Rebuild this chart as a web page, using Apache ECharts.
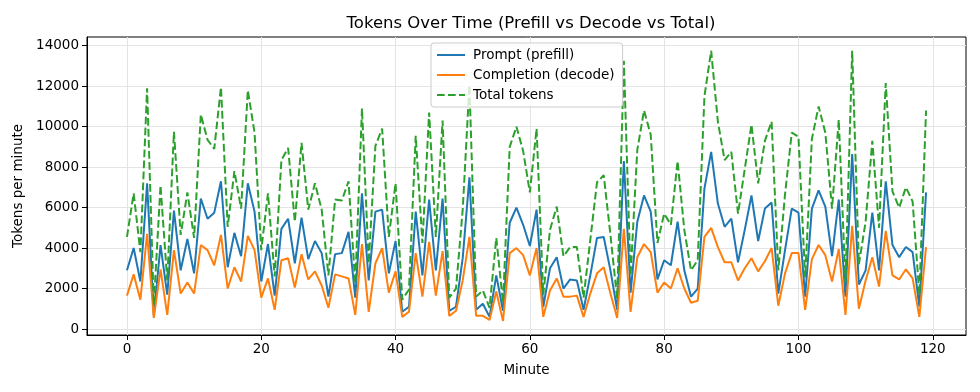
<!DOCTYPE html>
<html>
<head>
<meta charset="utf-8">
<script src="https://cdn.jsdelivr.net/npm/echarts@6/dist/echarts.min.js"></script>
<style>html,body{margin:0;padding:0;background:#fff;}#c{width:980px;height:392px;}</style>
</head>
<body>
<div id="c"></div>
<script>
const minutes = Array.from({length: 120}, (_, i) => i);
const promptTokens = [2900,4000,2350,7200,650,4150,1700,5850,2900,4450,2750,6450,5450,5750,7300,3050,4750,3600,7200,5800,
2350,4200,1650,4950,5450,3250,5500,3450,4350,3750,1600,3700,3750,4800,1550,6700,2400,5800,5900,2750,
4350,850,1100,5800,2650,6400,2900,6450,900,1100,3500,7500,950,1250,600,2650,900,5250,6000,5150,
4100,5900,1100,3000,3550,2000,2450,2400,950,2650,4500,4550,2900,950,8300,1800,5300,6600,5800,2450,
3400,3150,5300,2900,1600,2000,6950,8750,6200,5050,5450,3300,4900,6600,4350,5950,6250,1750,3900,5950,
5750,1600,5950,6850,6050,3600,6400,1600,8650,2200,2900,5750,2900,7300,4150,3550,4050,3800,1100,6750];
const completionTokens = [1650,2700,1450,4700,550,2950,700,3900,1750,2300,1750,4150,3900,3150,4650,2000,3050,2350,4600,3900,
1550,2500,950,3400,3500,2050,3700,2450,2850,2150,1050,2700,2600,2500,700,4200,850,3250,4000,1800,
2850,600,850,3750,1600,4300,1650,3850,650,900,2400,4550,650,650,450,1850,400,3750,4000,3650,
2650,4000,600,1900,2500,1600,1600,1650,600,1750,2750,3050,1750,550,4950,850,3550,4200,3800,1800,
2300,2000,3000,2000,1300,1400,4550,5000,4050,3300,3300,2400,3000,3500,2850,3350,4000,1150,2750,3750,
3750,950,3450,4150,3650,2350,3950,700,5100,1000,2400,3550,2100,4850,2650,2450,2950,2500,600,4050];
const totalTokens = [4550,6700,3800,11900,1200,7100,2400,9750,4650,6750,4500,10600,9350,8900,11950,5050,7800,5950,11800,9700,
3900,6700,2600,8350,8950,5300,9200,5900,7200,5900,2650,6400,6350,7300,2250,10900,3250,9050,9900,4550,
7200,1450,1950,9550,4250,10700,4550,10300,1550,2000,5900,12050,1600,1900,1050,4500,1300,9000,10000,8800,
6750,9900,1700,4900,6050,3600,4050,4050,1550,4400,7250,7600,4650,1500,13250,2650,8850,10800,9600,4250,
5700,5150,8300,4900,2900,3400,11500,13750,10250,8350,8750,5700,7900,10100,7200,9300,10250,2900,6650,9700,
9500,2550,9400,11000,9700,5950,10350,2300,13750,3200,5300,9300,5000,12150,6800,6000,7000,6300,1700,10800];
const xTicks = [0,20,40,60,80,100,120];
const yTicks = [0,2000,4000,6000,8000,10000,12000,14000];

const font = 'DejaVu Sans';
const solidIcon = 'path://M0,0 L28,0 L28,2 L0,2 Z';
const dashedIcon = 'path://M0,0 L7.7,0 L7.7,2 L0,2 Z M11,0 L18.7,0 L18.7,2 L11,2 Z M22,0 L28,0 L28,2 L22,2 Z';
const chart = echarts.init(document.getElementById('c'), null, {renderer: 'canvas'});
const pair = a => a.map((v, i) => [minutes[i], v]);
chart.setOption({
  animation: false,
  backgroundColor: '#fff',
  title: {
    text: 'Tokens Over Time (Prefill vs Decode vs Total)',
    left: 526, top: 10, textAlign: 'center',
    textStyle: {fontFamily: font, fontSize: 16.5, fontWeight: 'normal', color: '#000'}
  },
  legend: {
    orient: 'vertical',
    left: 431, top: 43, z: 10,
    padding: [5, 8, 5, 6],
    itemGap: 6,
    itemWidth: 28, itemHeight: 14,
    backgroundColor: 'rgba(255,255,255,0.8)',
    borderColor: '#cccccc', borderWidth: 1, borderRadius: 3,
    textStyle: {fontFamily: font, fontSize: 13.5, color: '#000', padding: [0, 0, 0, 3]},
    data: [
      {name: 'Prompt (prefill)', icon: solidIcon, itemStyle: {color: '#1f77b4'}},
      {name: 'Completion (decode)', icon: solidIcon, itemStyle: {color: '#ff7f0e'}},
      {name: 'Total tokens', icon: dashedIcon, itemStyle: {color: '#2ca02c'}}
    ]
  },
  grid: {left: 87, right: 14, top: 37, bottom: 57, show: true, borderColor: '#000', borderWidth: 1},
  xAxis: {
    type: 'value', min: -5.95, max: 124.95,
    name: 'Minute', nameLocation: 'middle', nameGap: 28,
    nameTextStyle: {fontFamily: font, fontSize: 13.5, color: '#000'},
    axisLine: {show: true, onZero: false, lineStyle: {color: '#000', width: 1}},
    axisTick: {show: true, customValues: xTicks, length: 5, lineStyle: {color: '#000'}},
    axisLabel: {customValues: xTicks, fontFamily: font, fontSize: 13.5, color: '#000', margin: 7},
    splitLine: {show: true, lineStyle: {color: '#e4e4e4', width: 1}}
  },
  yAxis: {
    type: 'value', min: -296, max: 14430,
    name: 'Tokens per minute', nameLocation: 'middle', nameGap: 61, nameRotate: 90,
    nameTextStyle: {fontFamily: font, fontSize: 13.5, color: '#000'},
    axisLine: {show: true, onZero: false, lineStyle: {color: '#000', width: 1}},
    axisTick: {show: true, customValues: yTicks, length: 5, lineStyle: {color: '#000'}},
    axisLabel: {customValues: yTicks, formatter: v => String(v), fontFamily: font, fontSize: 13.5, color: '#000', margin: 8},
    splitLine: {show: true, lineStyle: {color: '#e4e4e4', width: 1}}
  },
  series: [
    {name: 'Prompt (prefill)', type: 'line', data: pair(promptTokens), symbol: 'none', z: 2,
     lineStyle: {color: '#1f77b4', width: 2}, itemStyle: {color: '#1f77b4'}},
    {name: 'Completion (decode)', type: 'line', data: pair(completionTokens), symbol: 'none', z: 2,
     lineStyle: {color: '#ff7f0e', width: 2}, itemStyle: {color: '#ff7f0e'}},
    {name: 'Total tokens', type: 'line', data: pair(totalTokens), symbol: 'none', z: 2,
     lineStyle: {color: '#2ca02c', width: 2, type: [7.7, 3.3]}, itemStyle: {color: '#2ca02c'}}
  ]
});
</script>
</body>
</html>
